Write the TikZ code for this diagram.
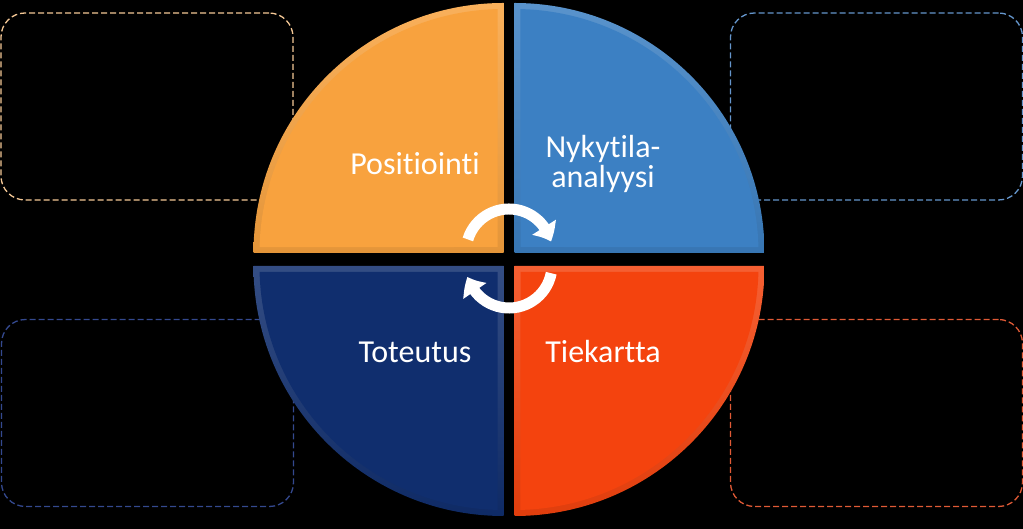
\documentclass[tikz,border=0pt]{standalone}
\usepackage{fontspec}
\setmainfont{Carlito}[Ligatures={NoCommon,NoContextual,NoRequired}]
\usetikzlibrary{arrows.meta,bending,calc}
\definecolor{qorange}{HTML}{F8A23E}
\definecolor{qblue}{HTML}{3C80C3}
\definecolor{qnavy}{HTML}{102E6E}
\definecolor{qred}{HTML}{F4430E}
\definecolor{borange}{HTML}{F5C896}
\definecolor{bblue}{HTML}{6596CC}
\definecolor{bnavy}{HTML}{34498F}
\definecolor{bred}{HTML}{E05A36}
\tikzset{
  sidebox/.style={rounded corners=24pt, dash pattern=on 6pt off 3pt, line width=1.3pt, minimum width=292pt, minimum height=187pt, inner sep=0pt},
  lbl/.style={text=white, font=\fontsize{32}{30}\selectfont, anchor=base, inner sep=0pt},
  cycarrow/.style={draw=white, line width=11pt, -{Triangle[bend, width=27pt, length=16pt]}}
}
\begin{document}
\begin{tikzpicture}[x=1pt,y=1pt]
\fill[black] (0,0) rectangle (1023,529);
\useasboundingbox (0,0) rectangle (1023,529);
% side boxes
\node[sidebox, draw=borange] (boxTL) at (147,422.5) {};
\node[sidebox, draw=bblue] (boxTR) at (876.5,422.5) {};
\node[sidebox, draw=bnavy] (boxBL) at (147.5,116) {};
\node[sidebox, draw=bred] (boxBR) at (876.5,116) {};
% quadrants: outer bevel band then inner face
\def\R{250}
\def\Ri{244}
% top-left
\shade[top color=qorange!85!white, bottom color=qorange!92!black]
  (503.5,276) -- ++(-\R,0) arc[start angle=180, end angle=90, radius=\R] -- cycle;
\fill[qorange] (497.5,282) -- ($(503.5,276)+(178.6:\Ri)$) arc[start angle=178.6, end angle=91.4, radius=\Ri] -- cycle;
% top-right
\shade[top color=qblue!85!white, bottom color=qblue!92!black]
  (514.5,276) -- ++(\R,0) arc[start angle=0, end angle=90, radius=\R] -- cycle;
\fill[qblue] (520.5,282) -- ($(514.5,276)+(1.4:\Ri)$) arc[start angle=1.4, end angle=88.6, radius=\Ri] -- cycle;
% bottom-left
\shade[top color=qnavy!85!white, bottom color=qnavy!92!black]
  (503.5,263) -- ++(-\R,0) arc[start angle=180, end angle=270, radius=\R] -- cycle;
\fill[qnavy] (497.5,257) -- ($(503.5,263)+(181.4:\Ri)$) arc[start angle=181.4, end angle=268.6, radius=\Ri] -- cycle;
% bottom-right
\shade[top color=qred!85!white, bottom color=qred!92!black]
  (514.5,263) -- ++(\R,0) arc[start angle=0, end angle=-90, radius=\R] -- cycle;
\fill[qred] (520.5,257) -- ($(514.5,263)+(-1.4:\Ri)$) arc[start angle=-1.4, end angle=-88.6, radius=\Ri] -- cycle;
% labels
\node[lbl] (pos) at (415,354) {Positiointi};
\node[lbl] (nyk) at (603,371) {Nykytila-};
\node[lbl] (ana) at (603,341) {analyysi};
\node[lbl] (tot) at (415,166) {Toteutus};
\node[lbl] (tie) at (603,166) {Tiekartta};
% cycle arrows
\coordinate (cycT) at (509,277);
\coordinate (cycB) at (509,264);
\draw[cycarrow] ($(cycT)+(163:43)$) arc[start angle=163, end angle=14, radius=43];
\draw[cycarrow] ($(cycB)+(-11:43)$) arc[start angle=-11, end angle=-164, radius=43];
\end{tikzpicture}
\end{document}
